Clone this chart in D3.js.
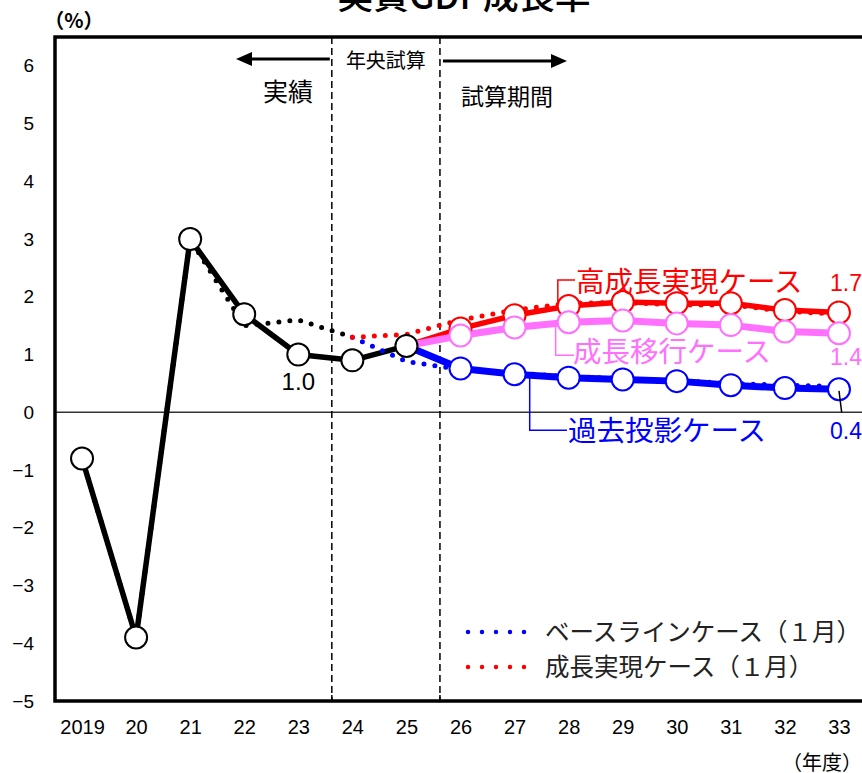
<!DOCTYPE html>
<html><head><meta charset="utf-8">
<script src="https://cdn.jsdelivr.net/npm/d3@7"></script>
<style>
body{margin:0;background:#fff;}
svg{display:block;}
.jp{font-family:"Noto Sans CJK JP","Noto Sans",sans-serif;}
.num{font-family:"Liberation Sans",Arial,sans-serif;}
</style></head>
<body>
<svg id="c" width="862" height="773"></svg>
<script>
// ---- data ----
const years = [2019,2020,2021,2022,2023,2024,2025,2026,2027,2028,2029,2030,2031,2032,2033];
const xTickLabels = ["2019","20","21","22","23","24","25","26","27","28","29","30","31","32","33"];
const yTicks = [6,5,4,3,2,1,0,-1,-2,-3,-4,-5];
const yTickLabels = ["6","5","4","3","2","1","0","\u22121","\u22122","\u22123","\u22124","\u22125"];

const actualYears = [2019,2020,2021,2022,2023,2024,2025];
const actual = [-0.8,-3.9,3.0,1.7,1.0,0.9,1.15];

const caseYears = [2025,2026,2027,2028,2029,2030,2031,2032,2033];
const highGrowth = [1.15,1.45,1.68,1.84,1.91,1.89,1.89,1.77,1.73];
const transition = [1.15,1.33,1.47,1.56,1.59,1.54,1.51,1.40,1.37];
const pastProjection = [1.15,0.76,0.66,0.60,0.57,0.54,0.47,0.42,0.40];

const janActualYears = [2019,2020,2021,2022,2023,2024];
const janActual = [-0.8,-3.9,3.0,1.5,1.6,1.3];
const janYears = [2024,2025,2026,2027,2028,2029,2030,2031,2032,2033];
const janBaseline = [1.3,0.88,0.74,0.68,0.62,0.58,0.55,0.50,0.47,0.45];
const janGrowth = [1.3,1.35,1.6,1.77,1.89,1.9,1.86,1.86,1.75,1.7];

const phaseBoundaries = [2023.62, 2025.62];

// ---- layout ----
const svg = d3.select("#c");
const L = 55, R = 866, T = 37, B = 701;
const x = d3.scaleLinear().domain([2018.5, 2033.5]).range([L, R]);
const y = d3.scaleLinear().domain([-5, 6.5]).range([B, T]);

const RED = "#ff0000", PINK = "#ff70ff", BLUE = "#0000ff", BLACK = "#000";

// title
svg.append("text").attr("class","jp").attr("x",464).attr("y",9)
  .attr("text-anchor","middle").attr("font-size",36).attr("font-weight",500)
  .text("実質GDP成長率");
svg.append("text").attr("class","jp").attr("x",74).attr("y",28)
  .attr("text-anchor","middle").attr("font-size",20).attr("font-weight","bold")
  .text("（%）");

// zero line
svg.append("line").attr("x1",L).attr("x2",R).attr("y1",y(0)).attr("y2",y(0))
  .attr("stroke","#333").attr("stroke-width",1.5);

// dashed phase lines
svg.selectAll(".phase").data(phaseBoundaries).enter().append("line")
  .attr("x1",d=>x(d)).attr("x2",d=>x(d)).attr("y1",T).attr("y2",B)
  .attr("stroke","#000").attr("stroke-width",1.5).attr("stroke-dasharray","7,4");

// bottom ticks at boundaries
svg.selectAll(".btick").data(phaseBoundaries).enter().append("line")
  .attr("x1",d=>x(d)).attr("x2",d=>x(d)).attr("y1",B).attr("y2",B-6)
  .attr("stroke","#000").attr("stroke-width",1.5);

// axes labels via d3 axes
const yAxis = d3.axisLeft(y).tickValues(yTicks).tickSize(0).tickPadding(0)
  .tickFormat((d,i)=>yTickLabels[i]);
const gy = svg.append("g").attr("transform",`translate(34,0)`).call(yAxis);
gy.attr("font-size",null).attr("font-family",null);
gy.select(".domain").remove();
gy.selectAll("text").style("font-size","19px").attr("fill","#000")
  .style("font-family","Liberation Sans, Arial, sans-serif");

const xAxis = d3.axisBottom(x).tickValues(years).tickSize(0).tickPadding(0)
  .tickFormat((d,i)=>xTickLabels[i]);
const gx = svg.append("g").attr("transform",`translate(0,${B+19})`).call(xAxis);
gx.attr("font-size",null).attr("font-family",null);
gx.select(".domain").remove();
gx.selectAll("text").style("font-size","20px").attr("fill","#000")
  .style("font-family","Liberation Sans, Arial, sans-serif");

svg.append("text").attr("class","jp").attr("x",862).attr("y",770)
  .attr("text-anchor","end").attr("font-size",20).text("（年度）");

// phase annotations
const arrowY1 = 59, arrowY2 = 61;
svg.append("line").attr("x1",x(phaseBoundaries[0])-2).attr("x2",250).attr("y1",arrowY1).attr("y2",arrowY1)
  .attr("stroke","#000").attr("stroke-width",3);
svg.append("path").attr("d",`M236,${arrowY1} L252,${arrowY1-7} L252,${arrowY1+7} Z`).attr("fill","#000");
svg.append("line").attr("x1",x(phaseBoundaries[1])+3).attr("x2",553).attr("y1",arrowY2).attr("y2",arrowY2)
  .attr("stroke","#000").attr("stroke-width",3);
svg.append("path").attr("d",`M567,${arrowY2} L551,${arrowY2-7} L551,${arrowY2+7} Z`).attr("fill","#000");
svg.append("text").attr("class","jp").attr("x",(x(phaseBoundaries[0])+x(phaseBoundaries[1]))/2).attr("y",68)
  .attr("text-anchor","middle").attr("font-size",20).text("年央試算");
svg.append("text").attr("class","jp").attr("x",288).attr("y",101)
  .attr("text-anchor","middle").attr("font-size",25).text("実績");
svg.append("text").attr("class","jp").attr("x",507).attr("y",105)
  .attr("text-anchor","middle").attr("font-size",23).text("試算期間");

// ---- lines ----
const line = d3.line().x(d=>x(d[0])).y(d=>y(d[1]));
const zip = (a,b)=>a.map((v,i)=>[v,b[i]]);

function solid(ys, vs, color, w){
  svg.append("path").datum(zip(ys,vs)).attr("d",line).attr("fill","none")
    .attr("stroke",color).attr("stroke-width",w).attr("stroke-linejoin","round");
}
function dotted(ys, vs, color){
  svg.append("path").datum(zip(ys,vs)).attr("d",line).attr("fill","none")
    .attr("stroke",color).attr("stroke-width",5).attr("stroke-linecap","round")
    .attr("stroke-dasharray","0,11");
}
solid(caseYears, highGrowth, RED, 5.5);
solid(caseYears, transition, PINK, 7);
solid(caseYears, pastProjection, BLUE, 7);
solid(actualYears, actual, BLACK, 5.5);

dotted(janActualYears, janActual, BLACK);
dotted(janYears, janBaseline, BLUE);
dotted(janYears, janGrowth, RED);

function circles(ys, vs, color){
  svg.append("g").selectAll("circle").data(zip(ys,vs)).enter().append("circle")
    .attr("cx",d=>x(d[0])).attr("cy",d=>y(d[1])).attr("r",11)
    .attr("fill","#fff").attr("stroke",color).attr("stroke-width",2);
}
circles(caseYears.slice(1), highGrowth.slice(1), RED);
circles(caseYears.slice(1), transition.slice(1), PINK);
circles(caseYears.slice(1), pastProjection.slice(1), BLUE);
circles(actualYears, actual, BLACK);

// ---- annotations ----
function leader(pts, color){
  svg.append("path").attr("d", d3.line()(pts)).attr("fill","none")
    .attr("stroke",color).attr("stroke-width",1.5);
}
leader([[x(2027.8),y(1.85)],[x(2027.8),y(2.29)],[x(2028.12),y(2.29)]], RED);
leader([[x(2027.76),y(1.5)],[x(2027.76),y(0.99)],[x(2028.1),y(0.99)]], PINK);
leader([[x(2027.28),y(0.65)],[x(2027.28),y(-0.31)],[x(2027.97),y(-0.31)]], BLUE);
leader([[x(2033),y(0.37)],[x(2033.05),y(0)]], BLACK);

svg.append("text").attr("class","jp").attr("x",576).attr("y",292)
  .attr("font-size",28.5).attr("fill",RED).text("高成長実現ケース");
svg.append("text").attr("class","jp").attr("x",573).attr("y",362)
  .attr("font-size",28.5).attr("fill",PINK).text("成長移行ケース");
svg.append("text").attr("class","jp").attr("x",568).attr("y",441)
  .attr("font-size",28.5).attr("fill",BLUE).text("過去投影ケース");

svg.append("text").attr("class","num").attr("x",862).attr("y",291)
  .attr("text-anchor","end").attr("font-size",23).attr("fill",RED).text("1.7");
svg.append("text").attr("class","num").attr("x",862).attr("y",365)
  .attr("text-anchor","end").attr("font-size",23).attr("fill",PINK).text("1.4");
svg.append("text").attr("class","num").attr("x",862).attr("y",439)
  .attr("text-anchor","end").attr("font-size",23).attr("fill",BLUE).text("0.4");
svg.append("text").attr("class","num").attr("x",x(2023)).attr("y",390)
  .attr("text-anchor","middle").attr("font-size",24).attr("fill","#000").text("1.0");

// ---- legend ----
const legend = [
  {label:"ベースラインケース（１月）", color:BLUE, yy:632},
  {label:"成長実現ケース（１月）", color:RED, yy:667}
];
const lg = svg.append("g");
legend.forEach(d=>{
  lg.append("line").attr("x1",468).attr("x2",538).attr("y1",d.yy).attr("y2",d.yy)
    .attr("stroke",d.color).attr("stroke-width",4.5).attr("stroke-linecap","round")
    .attr("stroke-dasharray","0,14");
  lg.append("text").attr("class","jp").attr("x",545).attr("y",d.yy+9)
    .attr("font-size",24.5).attr("fill","#222").text(d.label);
});

// frame
svg.append("path").attr("d",`M${R},${T} L${L},${T} L${L},${B} L${R},${B}`)
  .attr("fill","none").attr("stroke","#000").attr("stroke-width",3.5);
</script>
</body></html>
